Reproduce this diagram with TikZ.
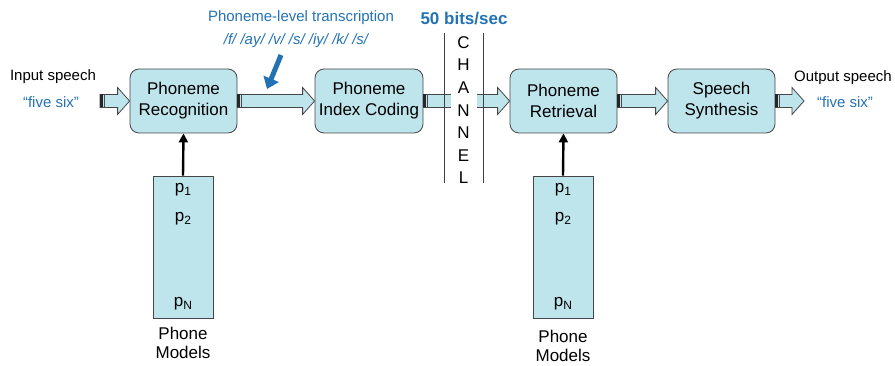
\documentclass[tikz,border=0pt]{standalone}
\usepackage{fontspec}
\setmainfont{Liberation Sans}
\usetikzlibrary{arrows.meta,calc}

\definecolor{boxfill}{RGB}{190,228,236}
\definecolor{boxline}{RGB}{70,70,70}
\definecolor{txtblue}{RGB}{35,114,180}

\newcommand{\fs}[1]{\fontsize{#1}{#1}\selectfont}

% full block arrow from tail point #1 to tip point #2 (same height)
\newcommand{\fatarrow}[2]{%
  \draw[arrowbody] let \p1=#1, \p2=#2 in
    (\x1,\y1+6.5pt) -- (\x2-12pt,\y1+6.5pt) -- (\x2-12pt,\y1+13.5pt) -- (\x2,\y1)
    -- (\x2-12pt,\y1-13.5pt) -- (\x2-12pt,\y1-6.5pt) -- (\x1,\y1-6.5pt) -- cycle;
  \fill[tailmark] let \p1=#1 in (\x1,\y1+6.5pt) rectangle (\x1+3pt,\y1-6.5pt);
  \draw[tailline] let \p1=#1 in (\x1+4.2pt,\y1+6.5pt) -- (\x1+4.2pt,\y1-6.5pt);
}
% block arrow shaft with an open far end
\newcommand{\fatshaft}[2]{%
  \fill[boxfill] let \p1=#1, \p2=#2 in (\x1,\y1+6.5pt) rectangle (\x2,\y1-6.5pt);
  \draw[boxline, line width=0.8pt] let \p1=#1, \p2=#2 in
    (\x2,\y1+6.5pt) -- (\x1,\y1+6.5pt) -- (\x1,\y1-6.5pt) -- (\x2,\y1-6.5pt);
  \fill[tailmark] let \p1=#1 in (\x1,\y1+6.5pt) rectangle (\x1+3pt,\y1-6.5pt);
  \draw[tailline] let \p1=#1 in (\x1+4.2pt,\y1+6.5pt) -- (\x1+4.2pt,\y1-6.5pt);
}
% block arrow head with an open tail
\newcommand{\fathead}[2]{%
  \fill[boxfill] let \p1=#1, \p2=#2 in
    (\x1,\y1+6.5pt) -- (\x2-12pt,\y1+6.5pt) -- (\x2-12pt,\y1+13.5pt) -- (\x2,\y1)
    -- (\x2-12pt,\y1-13.5pt) -- (\x2-12pt,\y1-6.5pt) -- (\x1,\y1-6.5pt) -- cycle;
  \draw[boxline, line width=0.8pt] let \p1=#1, \p2=#2 in
    (\x1,\y1+6.5pt) -- (\x2-12pt,\y1+6.5pt) -- (\x2-12pt,\y1+13.5pt) -- (\x2,\y1)
    -- (\x2-12pt,\y1-13.5pt) -- (\x2-12pt,\y1-6.5pt) -- (\x1,\y1-6.5pt);
}

\tikzset{
  box/.style={draw=boxline, fill=boxfill, rounded corners=9pt, line width=0.8pt,
    minimum width=107pt, minimum height=64pt, align=center, inner sep=0pt,
    font=\fs{17}},
  models/.style={draw=boxline, fill=boxfill, line width=0.8pt,
    minimum width=60pt, minimum height=142pt, inner sep=0pt},
  arrowbody/.style={draw=boxline, fill=boxfill, line width=0.8pt, line join=miter},
  tailmark/.style={fill=black!85},
  tailline/.style={draw=black!70, line width=0.8pt},
  modelarrow/.style={draw=black, line width=2.4pt, -{Triangle[length=9pt,width=9pt]}},
  bluearrow/.style={draw=txtblue, line width=5pt, -{Triangle[length=11pt,width=16pt]}},
  lbl/.style={font=\fs{15}, inner sep=0pt},
  bluelbl/.style={font=\fs{15}, text=txtblue, inner sep=0pt},
  pnode/.style={font=\fs{17}, inner sep=0pt},
  chan/.style={font=\fs{17}, inner sep=0pt},
  chanline/.style={draw=black!75, line width=0.9pt},
}

\newcommand{\psub}[1]{p\raisebox{-3pt}{\fs{12}#1}}

\begin{document}
\begin{tikzpicture}[x=1pt,y=-1pt]
  \useasboundingbox (0,0) rectangle (895,366);

  % processing blocks
  \node[box] (rec)   at (183.5,101) {Phoneme\\[4pt]Recognition};
  \node[box, minimum width=108pt] (code) at (369,101) {Phoneme\\[4pt]Index Coding};
  \node[box] (retr)  at (563.5,101) {Phoneme\\[4pt]Retrieval};
  \node[box] (synth) at (721.5,101) {Speech\\[4pt]Synthesis};

  % phone model stores
  \node[models] (pm1) at (183,247) {};
  \node[models] (pm2) at (563,247) {};
  \node[pnode] (p11) at (183,190) {\psub{1}};
  \node[pnode] (p12) at (183,219) {\psub{2}};
  \node[pnode] (p1n) at (183,304) {\psub{N}};
  \node[pnode] (p21) at (563,190) {\psub{1}};
  \node[pnode] (p22) at (563,219) {\psub{2}};
  \node[pnode] (p2n) at (563,304) {\psub{N}};
  \node[pnode, align=center] (lm1) at (183,343) {Phone\\[2pt]Models};
  \node[pnode, align=center] (lm2) at (563,346) {Phone\\[2pt]Models};

  \draw[modelarrow] (pm1.north) -- (rec.south);
  \draw[modelarrow] (pm2.north) -- (retr.south);

  % input and output labels
  \node[lbl] (inlbl) at (53,77) {Input speech};
  \node[bluelbl] (inq) at (51,102) {“five six”};
  \node[lbl] (outlbl) at (843,78) {Output speech};
  \node[bluelbl] (outq) at (845,102) {“five six”};

  % transcription annotation
  \node[bluelbl] (trtitle) at (301,18) {Phoneme-level transcription};
  \node[bluelbl] (trtext) at (296,41) {\itshape /f/ /ay/ /v/ /s/ /iy/ /k/ /s/};
  \coordinate (bt) at (281,55);
  \coordinate (bh) at (267,89);
  \draw[bluearrow] (bt) -- (bh);

  % block arrows
  \coordinate (in)  at (100,101);
  \coordinate (out) at (804,101);
  \coordinate (cl)  at (451,101);
  \coordinate (cr)  at (477,101);
  \fatarrow{(in)}{(rec.west)}
  \fatarrow{(rec.east)}{(code.west)}
  \fatshaft{(code.east)}{(cl)}
  \fathead{(cr)}{(retr.west)}
  \fatarrow{(retr.east)}{(synth.west)}
  \fatarrow{(synth.east)}{(out)}

  % channel
  \coordinate (c1t) at (444,33);
  \coordinate (c1b) at (444,183);
  \coordinate (c2t) at (483,33);
  \coordinate (c2b) at (483,183);
  \draw[chanline] (c1t) -- (c1b);
  \draw[chanline] (c2t) -- (c2b);
  \node[font=\fs{17}\bfseries, text=txtblue, inner sep=0pt] (rate) at (464,19) {50 bits/sec};
  \foreach \ch/\yy [count=\i] in {C/43,H/65,A/88,N/111,N/133,E/156,L/178}
    \node[chan] (ch\i) at (463.5,\yy) {\ch};
\end{tikzpicture}
\end{document}
